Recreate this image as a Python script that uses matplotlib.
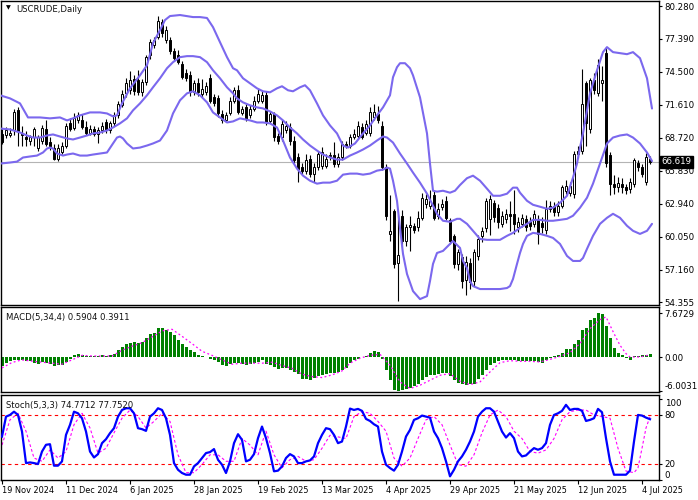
import matplotlib
matplotlib.use("Agg")
import matplotlib.pyplot as plt
import matplotlib.transforms as mtransforms
import numpy as np

# ── USCRUDE daily, 19 Nov 2024 .. early Jul 2025 (one entry per bar) ──────────
opens = [69.1, 68.97, 69.0, 69.4, 71.2, 69.2, 68.8, 68.5, 68.8, 67.8,
         68.5, 69.5, 68.4, 67.8, 66.9, 67.5, 68.0, 70.0, 69.6, 70.3,
         70.3, 69.7, 69.2, 69.5, 69.1, 69.4, 70.1, 69.4, 70.0, 70.7,
         71.6, 72.7, 72.9, 73.9, 73.8, 72.75, 73.6, 76.0, 76.9, 77.6,
         78.9, 77.3, 77.3, 76.3, 76.0, 75.2, 74.4, 74.2, 72.75, 73.5,
         72.6, 72.75, 74.0, 72.3, 72.2, 70.8, 70.3, 70.9, 72.0, 72.9,
         70.95, 71.4, 70.7, 71.3, 72.0, 72.0, 72.45, 70.25, 70.85, 68.9,
         68.8, 69.4, 69.7, 68.5, 67.05, 66.15, 65.85, 66.9, 65.6, 66.15,
         66.3, 66.3, 67.1, 67.2, 66.45, 67.05, 68.2, 68.05, 68.8, 68.9,
         69.7, 69.2, 69.2, 70.55, 70.8, 69.8, 66.15, 60.3, 62.3, 57.8,
         61.9, 59.7, 60.9, 61.0, 60.9, 61.75, 62.95, 62.8, 63.7, 61.9,
         62.65, 63.2, 61.5, 60.1, 57.65, 58.3, 56.3, 57.8, 56.2, 58.4,
         60.1, 60.8, 61.6, 63.0, 62.55, 61.2, 61.6, 62.1, 62.1, 60.9,
         61.2, 61.6, 61.4, 61.2, 61.6, 61.3, 60.7, 62.5, 62.8, 62.2,
         62.8, 64.1, 63.9, 63.8, 67.3, 67.6, 73.5, 69.5, 73.8, 72.7,
         73.5, 76.2, 67.2, 64.7, 64.45, 64.7, 64.4, 64.25, 64.7, 66.5,
         66.15, 64.85, 66.9]
highs = [69.5, 69.7, 69.6, 71.3, 71.4, 69.8, 69.3, 69.0, 69.7, 69.0,
         69.9, 70.3, 68.8, 68.2, 68.2, 68.4, 70.0, 70.5, 70.9, 71.0,
         70.8, 70.2, 69.9, 69.8, 69.7, 70.1, 70.4, 70.2, 71.0, 72.0,
         72.9, 74.0, 74.6, 74.2, 74.7, 73.9, 76.0, 77.4, 77.6, 79.4,
         79.1, 78.5, 77.6, 76.6, 76.4, 75.5, 74.8, 74.6, 73.8, 74.0,
         73.9, 73.6, 74.3, 72.6, 72.5, 71.2, 71.0, 72.3, 73.2, 73.4,
         71.5, 71.7, 71.6, 72.4, 73.0, 72.8, 72.8, 71.1, 71.0, 69.2,
         70.3, 70.2, 70.0, 68.9, 67.4, 66.5, 67.3, 67.2, 66.5, 67.6,
         67.9, 67.3, 67.5, 68.4, 67.4, 68.5, 68.5, 69.1, 69.5, 70.2,
         70.0, 70.3, 71.4, 71.7, 71.5, 70.2, 66.4, 63.7, 62.5, 62.0,
         62.4, 61.2, 61.9, 61.3, 62.3, 63.9, 63.8, 64.2, 64.1, 63.0,
         63.4, 63.6, 61.7, 60.3, 59.0, 58.6, 58.4, 58.2, 59.0, 60.2,
         60.9, 63.5, 63.7, 63.3, 62.9, 62.3, 62.5, 63.2, 64.2, 61.8,
         62.1, 62.0, 61.8, 62.4, 62.0, 61.8, 63.3, 63.2, 63.1, 63.2,
         64.6, 65.0, 64.9, 67.6, 68.0, 74.8, 73.7, 74.0, 74.4, 75.6,
         75.0, 76.7, 67.5, 65.5, 65.3, 65.2, 64.7, 65.2, 67.0, 66.8,
         66.4, 67.4, 67.1]
lows = [68.2, 68.7, 68.8, 69.0, 68.0, 68.0, 68.0, 68.1, 68.0, 67.6,
        68.2, 68.0, 67.7, 66.8, 66.7, 67.3, 67.8, 69.3, 69.4, 70.0,
        69.5, 69.0, 69.0, 68.9, 68.3, 69.2, 69.2, 69.2, 69.8, 70.5,
        71.4, 72.3, 72.6, 72.5, 72.5, 72.4, 73.4, 75.6, 76.6, 77.4,
        77.6, 77.0, 76.1, 75.5, 75.2, 73.9, 73.7, 72.4, 72.5, 72.4,
        72.3, 72.5, 71.8, 71.5, 70.6, 70.0, 70.1, 70.7, 71.8, 70.8,
        70.7, 70.2, 70.5, 71.1, 71.8, 71.8, 69.9, 70.0, 68.5, 68.2,
        68.5, 69.2, 68.1, 66.5, 64.9, 65.6, 65.6, 65.3, 64.9, 65.9,
        66.0, 66.1, 66.8, 66.2, 66.2, 66.8, 67.8, 67.8, 68.6, 68.7,
        68.6, 69.0, 68.9, 70.3, 70.0, 65.9, 61.5, 59.7, 57.3, 54.4,
        59.2, 59.3, 58.8, 60.4, 60.6, 61.5, 62.6, 62.5, 61.5, 61.6,
        62.4, 61.5, 59.4, 57.3, 57.2, 55.6, 55.0, 55.5, 55.8, 58.0,
        59.6, 60.5, 60.2, 61.4, 60.8, 60.9, 61.3, 60.6, 60.3, 60.5,
        60.9, 60.6, 60.7, 60.9, 59.4, 60.4, 60.3, 62.2, 61.9, 61.9,
        62.6, 63.8, 63.6, 63.5, 67.0, 67.3, 68.0, 69.2, 72.6, 72.4,
        72.0, 66.2, 63.7, 63.8, 64.0, 63.9, 63.8, 63.9, 64.4, 65.8,
        65.3, 64.6, 66.4]
closes = [68.35, 69.38, 69.2, 71.0, 69.3, 68.95, 68.6, 68.8, 69.5, 68.8,
          69.6, 68.2, 68.0, 66.9, 67.8, 68.0, 69.8, 69.5, 70.5, 70.7,
          69.7, 69.2, 69.5, 69.1, 69.4, 69.8, 69.4, 70.0, 70.7, 71.7,
          72.6, 73.5, 73.8, 72.8, 72.75, 73.6, 75.8, 77.1, 77.3, 79.0,
          77.9, 78.2, 76.3, 75.7, 75.4, 74.1, 74.0, 72.75, 73.5, 72.75,
          73.0, 73.3, 72.0, 71.8, 70.9, 70.3, 70.7, 72.0, 72.9, 71.0,
          71.25, 70.4, 71.3, 72.0, 72.6, 72.45, 70.1, 70.85, 68.8, 68.5,
          69.95, 69.8, 68.5, 66.75, 66.0, 65.85, 66.75, 65.6, 66.15, 67.3,
          67.5, 66.9, 67.2, 66.45, 67.05, 68.2, 68.05, 68.8, 69.1, 69.8,
          68.8, 69.95, 71.0, 71.0, 70.3, 66.15, 61.9, 60.6, 57.65, 58.5,
          59.7, 60.9, 61.1, 60.7, 61.75, 63.5, 63.4, 63.2, 61.75, 62.5,
          62.95, 61.75, 59.7, 57.65, 58.7, 56.2, 57.9, 56.1, 58.7, 59.9,
          60.6, 63.2, 63.4, 61.8, 61.4, 61.9, 62.1, 61.9, 61.2, 61.4,
          61.75, 60.9, 61.0, 62.05, 60.3, 60.9, 62.5, 62.8, 62.2, 62.8,
          64.4, 64.55, 64.55, 67.3, 67.6, 71.7, 70.0, 73.8, 72.9, 75.1,
          73.8, 66.5, 64.7, 64.4, 64.75, 64.4, 64.15, 64.85, 66.75, 66.15,
          65.55, 67.05, 66.62]

# Bollinger bands: (bar position, price)
bb_upper_x = [-0.5, 2, 4.5, 6.5, 9.5, 12, 14.5, 16.25, 17.75, 19.5, 22, 24.5, 26.25,
              27.75, 28.75, 30, 32, 34.5, 36.25, 37.75, 39.5, 40.75, 42, 44.5, 47.75,
              49.5, 51.25, 52.75, 54.5, 56.25, 57.75, 58.75, 60.25, 62, 63.75, 65.25,
              67, 68.75, 70, 71.5, 72.75, 74.5, 75.75, 77, 78.75, 80.25, 82, 83.75,
              85.25, 86.5, 88.25, 90.25, 92, 93.75, 95.25, 97, 97.75, 98.75, 99.5,
              100.75, 102, 102.75, 104.5, 106.25, 107, 107.75, 108.75, 110.25, 112,
              113.25, 114.5, 116.25, 117.75, 119.5, 121.25, 122.75, 124.5, 126.25,
              127.75, 128.75, 129.5, 131.25, 132.75, 134.5, 136.25, 137.75, 139.5,
              141.25, 142.75, 143.75, 144.5, 145.25, 146.25, 147, 148.75, 150.25,
              151.25, 152.75, 154.5, 156.25, 157.75, 159.5, 161.25, 162.5]
bb_upper = [72.46, 72.19, 71.75, 70.52, 70.52, 70.44, 70.52, 70.26, 70.44, 70.70, 70.96,
            70.96, 70.87, 70.61, 70.70, 71.75, 73.07, 74.21, 75.09, 77.02, 78.17, 79.05,
            79.40, 79.49, 79.31, 79.31, 79.23, 78.43, 77.11, 75.80, 74.83, 74.65, 73.95,
            73.51, 73.07, 72.81, 72.72, 73.07, 73.25, 72.90, 72.81, 73.16, 73.34, 72.90,
            71.75, 70.70, 69.82, 69.12, 68.06, 67.88, 68.24, 69.12, 69.82, 70.70, 71.40,
            72.46, 74.04, 74.92, 75.27, 75.27, 74.83, 74.21, 72.28, 69.12, 66.48, 64.10,
            64.02, 64.10, 63.93, 64.10, 64.60, 65.20, 65.42, 64.98, 64.28, 63.66, 63.66,
            63.84, 64.37, 64.37, 63.93, 63.22, 62.87, 62.70, 62.52, 62.61, 63.05, 63.66,
            65.25, 66.48, 67.88, 69.12, 71.14, 72.63, 74.65, 76.24, 76.68, 76.24, 76.15,
            76.06, 76.24, 75.71, 73.95, 71.30]
bb_mid_x = [-0.5, 2, 4.5, 6.25, 7.75, 9.5, 11.25, 12.75, 14.5, 16.25, 17.75, 19.5,
            21.25, 22.75, 24.5, 26.25, 27.75, 29.5, 31.25, 32.75, 34.5, 36.25, 37.75,
            39.5, 41.25, 42.75, 44.5, 46.25, 47.75, 49.5, 51.25, 52.75, 54.5, 56.25,
            57.75, 58.75, 60.25, 62, 63.75, 65.25, 67, 68.75, 70.25, 72, 73.75, 75.25,
            77, 78.75, 80.25, 82, 83.75, 85.25, 87, 88.75, 90.25, 92, 93.75, 95.25,
            96.25, 97.75, 99.5, 101.25, 102.75, 104.5, 106.25, 107.75, 108.75, 110.25,
            112, 113.75, 114.5, 116.25, 117.75, 119.5, 121.25, 122.75, 124.5, 126.25,
            127.75, 129.5, 131.25, 132.75, 134.5, 136.25, 137.75, 139.5, 141.25,
            142.75, 144.5, 146.25, 147.75, 149.5, 151.25, 152.75, 154.5, 156.25,
            157.75, 159.5, 161.25, 162.5]
bb_mid = [69.55, 69.47, 69.20, 68.94, 68.76, 68.76, 68.94, 69.03, 68.85, 68.68, 68.59,
          68.76, 68.94, 69.12, 69.20, 69.38, 69.64, 70.00, 70.44, 71.14, 71.75, 72.46,
          73.16, 73.95, 74.83, 75.36, 75.80, 75.89, 75.89, 75.80, 75.36, 74.65, 73.95,
          73.16, 72.63, 72.19, 71.84, 71.58, 71.40, 71.31, 71.05, 70.70, 70.26, 69.64,
          69.12, 68.59, 68.06, 67.62, 67.27, 67.01, 66.83, 66.83, 67.18, 67.45, 67.71,
          68.06, 68.50, 68.85, 68.76, 68.32, 67.36, 66.48, 65.69, 64.81, 63.84, 62.79,
          62.08, 61.47, 61.38, 61.64, 61.64, 61.20, 60.59, 59.88, 59.80, 59.80, 59.80,
          60.15, 60.41, 60.85, 61.20, 61.55, 61.55, 61.47, 61.47, 61.55, 61.64, 61.91,
          62.61, 63.49, 64.72, 66.48, 68.24, 68.76, 68.94, 69.03, 68.76, 68.24, 67.45,
          66.70]
bb_lower_x = [-0.5, 2, 3.75, 5.25, 7, 8.75, 10.25, 11.25, 12, 12.75, 13.75, 15.25, 16.25,
              17.75, 19.5, 21.25, 22.75, 24.5, 26.25, 27.75, 28.75, 29.5, 30.25, 31.25,
              32.75, 34.5, 36.25, 37.75, 39.5, 41.25, 42.75, 44.5, 46.25, 47.75, 49.5,
              51.25, 52.75, 54.5, 56.25, 57.75, 59.5, 62, 63.75, 65.25, 67, 68.75, 70.25,
              72, 73.75, 75.25, 77, 78.75, 80.25, 82, 83.75, 85.25, 87, 88.75, 90.25, 92,
              93.75, 95.25, 96.25, 97, 97.75, 98.75, 99.5, 100.25, 101.25, 102.75, 104.5,
              106.25, 107, 107.75, 108.75, 110.25, 112, 112.75, 114.5, 115.25, 116.25,
              117, 117.75, 119.5, 122, 124.5, 126.25, 127, 127.75, 128.75, 129.5, 130.25,
              131.25, 132.75, 134.5, 136.25, 137.75, 139.5, 141.25, 142.75, 144.5, 145.25,
              146.25, 147.75, 149.5, 151.25, 152.75, 154.5, 156.25, 157.75, 159.5, 161.25,
              162.5]
bb_lower = [66.48, 66.57, 66.65, 67.01, 67.10, 67.18, 67.45, 67.80, 67.88, 67.80, 67.36,
            67.18, 67.27, 67.36, 67.18, 67.18, 67.27, 67.36, 67.45, 68.24, 68.76, 68.85,
            68.68, 68.24, 67.80, 67.88, 68.06, 68.24, 68.50, 69.38, 70.87, 72.02, 72.63,
            72.81, 72.46, 71.84, 70.96, 70.52, 70.08, 70.17, 70.44, 70.26, 70.08, 70.08,
            70.00, 69.64, 68.50, 67.01, 66.04, 65.42, 64.98, 64.72, 64.81, 64.81, 64.98,
            65.51, 65.60, 65.60, 65.51, 65.60, 65.86, 65.95, 66.13, 66.04, 64.98, 63.22,
            60.85, 58.57, 56.81, 55.31, 54.61, 54.87, 56.19, 57.69, 58.65, 58.83, 59.44,
            59.70, 59.09, 57.95, 57.33, 56.19, 55.75, 55.49, 55.49, 55.49, 55.58, 55.75,
            56.37, 57.69, 58.65, 59.44, 60.15, 60.41, 60.32, 60.15, 59.97, 59.44, 58.39,
            57.95, 57.95, 58.21, 59.01, 60.15, 61.20, 61.73, 62.08, 61.73, 61.03, 60.59,
            60.32, 60.59, 61.20]

# MACD(5,34,4) histogram per bar, signal line read at bar positions
macd_hist = [-1.5, -1.1, -0.75, -0.6, -0.6, -0.6, -0.7, -0.75, -1.0, -1.2,
             -0.9, -1.0, -1.2, -1.6, -1.45, -1.45, -0.9, -0.3, 0.3, 0.45,
             0.4, 0.17, 0.17, 0.1, 0.17, 0.3, 0.17, 0.3, 0.6, 1.15,
             1.75, 2.2, 2.45, 2.7, 2.5, 2.6, 3.3, 4.1, 4.25, 5.1,
             5.1, 4.8, 4.4, 3.8, 3.0, 2.3, 1.75, 1.15, 0.9, 0.3,
             0.1, 0.05, -0.3, -0.45, -0.9, -1.45, -1.6, -1.2, -1.05, -1.05,
             -1.2, -1.35, -1.2, -1.0, -0.8, -0.6, -1.2, -1.35, -1.75, -2.15,
             -2.0, -2.0, -2.3, -2.6, -3.0, -3.8, -3.8, -3.95, -3.7, -3.4,
             -3.2, -3.0, -2.8, -2.8, -2.6, -2.3, -2.0, -1.0, -0.6, -0.3,
             0.05, 0.17, 0.7, 1.0, 0.9, -0.3, -2.3, -4.0, -5.8, -6.0,
             -5.7, -5.5, -5.4, -5.1, -4.65, -4.1, -3.5, -3.2, -3.1, -3.0,
             -2.8, -2.8, -3.4, -4.1, -4.5, -4.8, -4.95, -4.8, -4.65, -3.8,
             -3.1, -2.3, -1.45, -1.05, -0.75, -0.6, -0.45, -0.45, -0.6, -0.75,
             -0.75, -0.75, -0.75, -0.75, -0.9, -1.0, -0.6, -0.2, 0.1, 0.3,
             0.75, 1.35, 1.35, 2.3, 3.0, 4.65, 5.1, 6.4, 6.8, 7.7,
             7.5, 5.5, 3.4, 1.6, 0.75, 0.3, -0.2, -0.45, 0.1, 0.17,
             0.3, 0.4, 0.59]
macd_sig_x = [0, 2.5, 5, 8.3, 12.5, 15, 17.5, 20, 22.5, 25, 27.5, 30, 32.5, 35, 37.5,
              40, 42.5, 45, 47.5, 50, 52.5, 55, 57.5, 60, 62.5, 65, 67.5, 70, 72.5, 75,
              77.5, 80, 82.5, 85, 87, 89.5, 92, 94.5, 97, 99.5, 102, 104.5, 107, 109.5,
              112, 114.5, 117, 119.5, 122, 124.5, 127, 129.5, 132, 134.5, 137, 139.5,
              142, 144.5, 147, 149.5, 151, 153, 154.5, 156, 157, 159.5, 162]
macd_sig = [-1.91, -0.96, -0.50, -0.79, -1.08, -1.26, -0.50, 0.29, 0.17, 0.17, 0.17,
            1.17, 1.87, 2.51, 3.50, 4.55, 4.84, 3.62, 2.34, 1.00, 0.29, -0.50, -1.26,
            -1.08, -1.08, -1.08, -0.91, -1.49, -1.97, -3.01, -3.42, -3.59, -3.13, -2.43,
            -1.08, -0.20, 0.29, 0.47, -1.44, -4.35, -5.51, -4.93, -4.06, -3.19, -2.90,
            -4.24, -4.82, -4.35, -2.61, -0.99, -0.64, -0.75, -0.75, -0.87, -0.41, 0.12,
            0.76, 2.34, 4.96, 6.53, 7.00, 4.09, 2.05, 0.59, 0.00, 0.00, 0.39]

# Stochastic(5,3,3): %K per bar, %D read at bar positions
stoch_k = [53.4, 77.9, 80, 84, 80, 59.6, 20.8, 21.6, 20.8, 19.6,
           35, 43.3, 44, 17.6, 17.6, 22.9, 55.5, 67.8, 84, 82,
           75.9, 59.6, 35, 27.7, 31.8, 45.3, 50.2, 57.6, 63.7, 77.9,
           86.1, 88.2, 88.2, 82, 63.7, 62.5, 60.4, 77.9, 82, 88.2,
           86.1, 75.9, 55.5, 20.8, 12.6, 8.6, 6.5, 6.5, 16.7, 20.8,
           27, 33.1, 34.3, 38, 24.9, 18.8, 8.6, 22.9, 45.3, 56.3,
           49.4, 22.9, 24.9, 31.8, 51.4, 65.7, 51.4, 33.1, 10.7, 11.5,
           16.7, 27, 31.8, 29, 20.8, 20.8, 22.9, 24.1, 29, 45.3,
           55.5, 63.7, 62.5, 55.5, 45.3, 47.3, 65.7, 87.8, 86.1, 87.4,
           85, 75.1, 72.6, 68.5, 65.7, 35, 18.8, 14.7, 11.5, 18.8,
           35, 53.4, 61.6, 73.9, 75.9, 79.2, 77.9, 76.7, 59.6, 51.4,
           39.2, 22.9, 4.5, 12.6, 22.9, 29, 37.2, 47.3, 59.6, 77.9,
           84, 88.2, 88.2, 84, 71.8, 59.6, 52.2, 57.6, 51.4, 35,
           29, 30.2, 35, 39.2, 37.2, 39.2, 45.3, 67.8, 80, 82,
           85, 92.4, 86.1, 87.4, 87.4, 85, 72.6, 73.9, 75.9, 87.4,
           83.3, 51.4, 22.9, 6.5, 6.5, 6.5, 6.5, 11.5, 47.3, 80,
           79.2, 76.7, 74.77]
stoch_d_x = [0, 2, 4, 6, 8, 10, 12, 14, 16, 18, 20, 22, 24, 26, 28, 30, 32, 34, 36, 38,
             40, 42, 44, 46, 48, 50, 52, 54, 56, 58, 60, 62, 64, 66, 68, 70, 72, 74, 76,
             78, 80, 82, 84, 86, 88, 90, 92, 94, 96, 98, 100, 102, 104, 106, 108, 110,
             112, 114, 116, 118, 120, 122, 124, 126, 128, 130, 132, 134, 136, 138, 140,
             142, 144, 146, 148, 150, 152, 154, 156, 158, 159, 160, 161, 162]
stoch_d = [43, 74, 82, 60, 27, 23, 37, 27, 35, 68, 82, 64, 33, 39, 58, 76, 86, 78, 64,
           72, 82, 72, 31, 9, 9, 19, 31, 31, 23, 23, 51, 43, 31, 60, 31, 15, 25, 29, 23,
           25, 39, 55, 53, 51, 78, 84, 82, 72, 60, 27, 17, 27, 51, 74, 78, 68, 43, 19, 17,
           31, 58, 80, 86, 78, 60, 51, 35, 33, 37, 51, 74, 84, 86, 86, 80, 78, 76, 39, 11,
           9, 15, 39, 64, 77.75]

date_pos = [0, 16, 32, 48, 64, 80, 96, 112, 128, 144, 160]
date_labels = ['19 Nov 2024', '11 Dec 2024', '6 Jan 2025', '28 Jan 2025', '19 Feb 2025',
               '13 Mar 2025', '4 Apr 2025', '29 Apr 2025', '21 May 2025', '12 Jun 2025',
               '4 Jul 2025']
price_ticks = [80.280, 77.390, 74.500, 71.610, 68.720, 65.830, 62.940, 60.050, 57.160, 54.355]
macd_ticks = [7.6729, 0.0, -6.0031]
stoch_ticks = [100, 80, 20, 0]
last_price = 66.619

plt.rcParams['font.family'] = 'DejaVu Sans'
FS_AX = 6.2     # right-hand scale
FS_TXT = 6.1    # panel captions
FS_DATE = 5.9
BAND = '#7b68ee'

W, H = 698, 500
fig = plt.figure(figsize=(W / 100, H / 100), dpi=100)


def panel(top, bottom):
    return fig.add_axes([1 / W, (H - bottom) / H, 658 / W, (bottom - top) / H])


ax = panel(1, 305)
ax_m = panel(307, 392)
ax_s = panel(395, 480)

o, h, l, c = map(np.array, (opens, highs, lows, closes))
x = np.arange(len(c))
bull = c >= o
body = np.maximum(np.abs(c - o), 0.06)

# candles
ax.axhline(last_price, color='#b4b4b4', lw=0.8, zorder=0)
ax.vlines(x, l, h, color='black', lw=0.8, zorder=1)
ax.bar(x[bull], body[bull], bottom=o[bull], width=0.55, color='white',
       edgecolor='black', linewidth=0.7, zorder=2)
ax.bar(x[~bull], body[~bull], bottom=c[~bull], width=0.55, color='black',
       edgecolor='black', linewidth=0.7, zorder=2)

# bollinger
for bx, by in ((bb_upper_x, bb_upper), (bb_mid_x, bb_mid), (bb_lower_x, bb_lower)):
    ax.plot(bx, by, color=BAND, lw=1.5, zorder=3, solid_capstyle='round')

ax.set_ylim(54.093, 80.718)
ax.set_yticks(price_ticks)
ax.set_yticklabels([f'{t:.3f}' for t in price_ticks])

trans = mtransforms.blended_transform_factory(ax.transAxes, ax.transData)
ax.text(1.004, last_price, f'{last_price:.3f}', transform=trans, color='white',
        fontsize=FS_AX, va='center', ha='left', zorder=5,
        bbox=dict(boxstyle='square,pad=0.2', fc='black', ec='black'))
ax.text(0.007, 0.985, '\u25bc', transform=ax.transAxes, fontsize=4.5, va='top', ha='left')
ax.text(0.023, 0.988, 'USCRUDE,Daily', transform=ax.transAxes, fontsize=FS_TXT,
        va='top', ha='left', color='#111111')

# MACD
ax_m.bar(x, macd_hist, width=0.75, color='#008000', zorder=2)
ax_m.plot(macd_sig_x, macd_sig, color='#ff00ff', lw=0.9, ls=(0, (1.5, 2)), zorder=3)
ax_m.set_ylim(-6.11, 8.73)
ax_m.set_yticks(macd_ticks)
ax_m.set_yticklabels(['7.6729', '0.00', '-6.0031'])
ax_m.text(0.007, 0.93, 'MACD(5,34,4) 0.5904 0.3911', transform=ax_m.transAxes,
          fontsize=FS_TXT, va='top', ha='left', color='#111111')

# Stochastic
for lev in (80, 20):
    ax_s.axhline(lev, color='#ff0000', lw=0.8, ls=(0, (3, 3)), zorder=1)
ax_s.plot(stoch_d_x, stoch_d, color='#ff00ff', lw=0.8, ls=(0, (2.5, 2)), zorder=2)
ax_s.plot(x, stoch_k, color='#0000ff', lw=1.6, zorder=3)
ax_s.set_ylim(0.4, 104.5)
ax_s.set_yticks(stoch_ticks)
ax_s.set_yticklabels([str(t) for t in stoch_ticks])
ax_s.text(0.007, 0.93, 'Stoch(5,3,3) 74.7712 77.7520', transform=ax_s.transAxes,
          fontsize=FS_TXT, va='top', ha='left', color='#111111')

ax_s.set_xticks(date_pos)
ax_s.set_xticklabels(date_labels)
for lab in ax_s.get_xticklabels():
    lab.set_ha('left')

for a in (ax, ax_m, ax_s):
    a.set_xlim(-0.25, 164.25)
    a.yaxis.tick_right()
    a.tick_params(axis='y', direction='out', length=2.5, width=0.8, pad=1.5,
                  labelsize=FS_AX, colors='black')
    for s in a.spines.values():
        s.set_color('black')
        s.set_linewidth(1.0)
    a.set_facecolor('white')
for a in (ax, ax_m):
    a.set_xticks([])
ax_s.tick_params(axis='x', direction='out', length=3, width=0.8, pad=1.5,
                 labelsize=FS_DATE)

# edge labels sit inside their panel, as in the terminal
ml = ax_m.get_yticklabels()
ml[-1].set_va('bottom')
sl = ax_s.get_yticklabels()
sl[0].set_va('top')
sl[-1].set_va('bottom')

fig.savefig('out.png', dpi=100, facecolor='white')
